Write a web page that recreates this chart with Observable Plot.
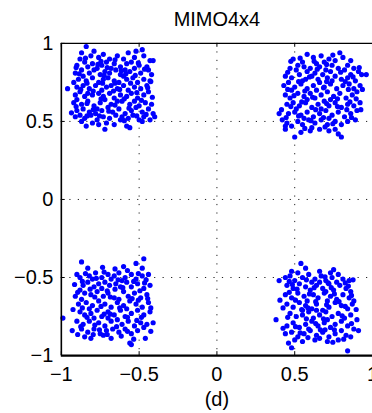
<!DOCTYPE html>
<html>
<head>
<meta charset="utf-8">
<script src="https://cdn.jsdelivr.net/npm/d3@7"></script>
<script src="https://cdn.jsdelivr.net/npm/@observablehq/plot@0.6"></script>
<style>
  html, body { margin: 0; padding: 0; background: #fff; overflow: hidden; }
</style>
</head>
<body>
<div id="chart"></div>
<script>
const title = "MIMO4x4";
const caption = "(d)";
const tickValues = [-1, -0.5, 0, 0.5, 1];
const tickLabels = ["\u22121", "\u22120.5", "0", "0.5", "1"];
const gridValues = [-0.5, 0, 0.5];

const clusterTopLeft = [
[-0.84,0.98],[-0.87,0.94],[-0.79,0.95],[-0.73,0.93],[-0.64,0.92],[-0.57,0.94],[-0.52,0.95],[-0.48,0.96],[-0.43,0.89],[-0.41,0.89],[-0.76,0.91],[-0.69,0.90],[-0.60,0.90],[-0.88,0.90],[-0.53,0.91],[-0.81,0.92],[-0.47,0.92],
[-0.90,0.86],[-0.85,0.88],[-0.80,0.87],[-0.74,0.86],[-0.71,0.88],[-0.66,0.87],[-0.62,0.85],[-0.58,0.87],[-0.55,0.88],[-0.50,0.86],[-0.45,0.85],[-0.77,0.84],[-0.68,0.84],[-0.83,0.85],[-0.59,0.83],
[-0.91,0.81],[-0.87,0.83],[-0.82,0.81],[-0.79,0.83],[-0.75,0.80],[-0.72,0.82],[-0.69,0.81],[-0.65,0.83],[-0.62,0.80],[-0.56,0.82],[-0.53,0.84],[-0.49,0.81],[-0.44,0.83],[-0.42,0.80],[-0.86,0.79],[-0.60,0.79],
[-0.89,0.77],[-0.84,0.76],[-0.80,0.78],[-0.76,0.75],[-0.73,0.77],[-0.70,0.78],[-0.66,0.76],[-0.63,0.75],[-0.58,0.77],[-0.54,0.78],[-0.51,0.75],[-0.47,0.77],[-0.43,0.76],[-0.92,0.75],[-0.68,0.73],
[-0.96,0.71],[-0.90,0.72],[-0.86,0.73],[-0.82,0.71],[-0.78,0.73],[-0.74,0.70],[-0.71,0.72],[-0.64,0.71],[-0.60,0.73],[-0.57,0.70],[-0.53,0.72],[-0.49,0.71],[-0.45,0.73],[-0.83,0.68],[-0.76,0.68],
[-0.91,0.67],[-0.88,0.69],[-0.85,0.66],[-0.80,0.67],[-0.73,0.66],[-0.69,0.68],[-0.66,0.65],[-0.62,0.67],[-0.58,0.66],[-0.55,0.68],[-0.51,0.65],[-0.47,0.67],[-0.44,0.69],[-0.90,0.64],[-0.61,0.63],
[-0.92,0.62],[-0.87,0.61],[-0.83,0.63],[-0.79,0.60],[-0.75,0.62],[-0.72,0.64],[-0.68,0.61],[-0.64,0.63],[-0.56,0.61],[-0.53,0.63],[-0.50,0.60],[-0.46,0.62],[-0.42,0.61],[-0.77,0.58],
[-0.90,0.57],[-0.86,0.58],[-0.82,0.56],[-0.78,0.55],[-0.74,0.57],[-0.70,0.59],[-0.67,0.56],[-0.63,0.58],[-0.59,0.55],[-0.55,0.57],[-0.52,0.59],[-0.48,0.56],[-0.44,0.58],[-0.41,0.55],[-0.88,0.54],[-0.61,0.53],
[-0.91,0.53],[-0.85,0.52],[-0.81,0.54],[-0.77,0.51],[-0.73,0.53],[-0.69,0.52],[-0.65,0.54],[-0.62,0.51],[-0.57,0.52],[-0.54,0.54],[-0.50,0.51],[-0.47,0.53],[-0.40,0.53],[-0.43,0.51],[-0.87,0.50],[-0.71,0.49],
[-0.84,0.47],[-0.72,0.45],[-0.58,0.47],[-0.48,0.50],[-0.76,0.48],[-0.66,0.48],[-0.56,0.46],[-0.80,0.49],
[-0.845,0.905],[-0.745,0.885],[-0.655,0.895],[-0.505,0.875],[-0.885,0.805],[-0.705,0.845],[-0.615,0.825],[-0.465,0.835],[-0.835,0.745],[-0.725,0.795],[-0.655,0.745],[-0.525,0.795],[-0.445,0.715],[-0.875,0.705],[-0.795,0.695],[-0.665,0.695],[-0.555,0.745],[-0.515,0.685],[-0.835,0.615],[-0.745,0.645],[-0.655,0.605],[-0.595,0.645],[-0.485,0.635],[-0.905,0.595],[-0.795,0.575],[-0.695,0.565],[-0.565,0.585],[-0.455,0.545],[-0.835,0.535],[-0.755,0.535],[-0.595,0.505],[-0.515,0.535],[-0.935,0.555],[-0.625,0.705],[-0.735,0.745],[-0.585,0.805],[-0.765,0.865],[-0.905,0.845],[-0.415,0.655],[-0.425,0.755]
];

const clusterTopRight = [
[0.49,0.90],[0.58,0.93],[0.62,0.91],[0.67,0.92],[0.72,0.90],[0.79,0.94],[0.81,0.91],[0.86,0.89],[0.55,0.88],[0.69,0.88],[0.76,0.89],[0.84,0.86],[0.52,0.86],[0.64,0.87],
[0.47,0.84],[0.51,0.83],[0.56,0.85],[0.60,0.84],[0.66,0.85],[0.70,0.83],[0.74,0.86],[0.78,0.84],[0.82,0.83],[0.88,0.84],[0.91,0.82],[0.58,0.82],[0.63,0.81],[0.73,0.82],[0.86,0.80],
[0.44,0.79],[0.48,0.78],[0.53,0.80],[0.57,0.77],[0.61,0.79],[0.65,0.77],[0.68,0.80],[0.71,0.78],[0.76,0.79],[0.80,0.77],[0.84,0.78],[0.89,0.76],[0.93,0.80],[0.96,0.80],[0.55,0.76],[0.74,0.76],
[0.43,0.73],[0.46,0.75],[0.50,0.72],[0.54,0.74],[0.58,0.71],[0.62,0.73],[0.66,0.75],[0.69,0.72],[0.73,0.74],[0.77,0.71],[0.81,0.73],[0.85,0.74],[0.88,0.71],[0.92,0.73],[0.48,0.70],[0.64,0.70],
[0.44,0.67],[0.47,0.65],[0.52,0.68],[0.56,0.66],[0.60,0.68],[0.63,0.65],[0.67,0.67],[0.71,0.69],[0.75,0.66],[0.79,0.68],[0.83,0.65],[0.87,0.67],[0.90,0.69],[0.58,0.64],[0.73,0.64],
[0.45,0.61],[0.49,0.62],[0.53,0.60],[0.57,0.62],[0.61,0.59],[0.65,0.61],[0.69,0.63],[0.72,0.60],[0.76,0.62],[0.80,0.59],[0.84,0.61],[0.88,0.60],[0.92,0.62],[0.51,0.58],[0.67,0.58],
[0.46,0.55],[0.50,0.56],[0.54,0.54],[0.58,0.56],[0.62,0.53],[0.66,0.55],[0.70,0.57],[0.74,0.54],[0.78,0.56],[0.82,0.53],[0.86,0.55],[0.90,0.57],[0.40,0.55],[0.56,0.52],[0.72,0.52],
[0.42,0.51],[0.45,0.49],[0.48,0.47],[0.52,0.50],[0.55,0.48],[0.59,0.51],[0.63,0.49],[0.67,0.51],[0.71,0.48],[0.76,0.50],[0.80,0.48],[0.84,0.50],[0.89,0.51],[0.44,0.47],[0.61,0.46],
[0.44,0.45],[0.50,0.40],[0.54,0.43],[0.60,0.44],[0.72,0.44],[0.78,0.42],[0.80,0.40],[0.76,0.45],[0.66,0.45],
[0.535,0.905],[0.745,0.925],[0.645,0.835],[0.455,0.815],[0.595,0.785],[0.795,0.815],[0.875,0.785],[0.525,0.755],[0.705,0.755],[0.825,0.755],[0.565,0.695],[0.685,0.715],[0.845,0.705],[0.455,0.705],[0.495,0.665],[0.615,0.655],[0.775,0.645],[0.895,0.645],[0.545,0.625],[0.705,0.615],[0.855,0.625],[0.475,0.595],[0.635,0.575],[0.775,0.595],[0.925,0.575],[0.525,0.535],[0.685,0.525],[0.835,0.575],[0.445,0.525],[0.605,0.505],[0.745,0.485],[0.865,0.525],[0.565,0.455],[0.695,0.465],[0.415,0.575],[0.935,0.705],[0.625,0.885],[0.705,0.865],[0.915,0.845],[0.475,0.885]
];

const clusterBottomLeft = [
[-0.47,-0.38],[-0.87,-0.40],[-0.52,-0.41],[-0.60,-0.43],[-0.83,-0.44],[-0.48,-0.44],
[-0.90,-0.48],[-0.88,-0.50],[-0.82,-0.49],[-0.78,-0.47],[-0.74,-0.50],[-0.70,-0.48],[-0.66,-0.49],[-0.63,-0.47],[-0.59,-0.50],[-0.55,-0.48],[-0.52,-0.51],[-0.48,-0.49],[-0.44,-0.48],[-0.80,-0.51],[-0.68,-0.51],[-0.61,-0.52],
[-0.86,-0.55],[-0.83,-0.53],[-0.79,-0.56],[-0.76,-0.54],[-0.72,-0.53],[-0.69,-0.55],[-0.65,-0.54],[-0.62,-0.56],[-0.58,-0.53],[-0.55,-0.56],[-0.51,-0.54],[-0.47,-0.57],[-0.43,-0.55],[-0.74,-0.57],[-0.88,-0.58],
[-0.91,-0.62],[-0.85,-0.60],[-0.81,-0.61],[-0.77,-0.59],[-0.73,-0.62],[-0.70,-0.60],[-0.66,-0.63],[-0.60,-0.59],[-0.57,-0.62],[-0.53,-0.60],[-0.49,-0.63],[-0.45,-0.61],[-0.63,-0.64],[-0.87,-0.64],
[-0.89,-0.67],[-0.84,-0.66],[-0.80,-0.68],[-0.76,-0.65],[-0.72,-0.67],[-0.68,-0.69],[-0.64,-0.66],[-0.60,-0.68],[-0.56,-0.65],[-0.52,-0.67],[-0.48,-0.69],[-0.44,-0.66],[-0.82,-0.70],[-0.58,-0.70],
[-0.88,-0.72],[-0.85,-0.74],[-0.81,-0.73],[-0.77,-0.71],[-0.74,-0.75],[-0.70,-0.72],[-0.66,-0.74],[-0.62,-0.71],[-0.59,-0.75],[-0.55,-0.73],[-0.51,-0.71],[-0.47,-0.74],[-0.43,-0.72],[-0.79,-0.76],[-0.64,-0.77],
[-0.99,-0.76],[-0.90,-0.78],[-0.86,-0.80],[-0.82,-0.78],[-0.76,-0.79],[-0.72,-0.81],[-0.68,-0.78],[-0.61,-0.80],[-0.57,-0.78],[-0.53,-0.81],[-0.49,-0.79],[-0.45,-0.80],[-0.41,-0.79],[-0.70,-0.76],
[-0.93,-0.84],[-0.87,-0.83],[-0.83,-0.85],[-0.79,-0.83],[-0.75,-0.86],[-0.71,-0.84],[-0.67,-0.83],[-0.63,-0.85],[-0.59,-0.83],[-0.55,-0.86],[-0.51,-0.84],[-0.47,-0.82],[-0.73,-0.87],[-0.85,-0.88],
[-0.56,-0.92],[-0.55,-0.93],[-0.46,-0.89],[-0.68,-0.89],[-0.81,-0.89],
[-0.845,-0.475],[-0.725,-0.465],[-0.575,-0.455],[-0.505,-0.475],[-0.865,-0.525],[-0.775,-0.505],[-0.635,-0.515],[-0.535,-0.525],[-0.455,-0.515],[-0.815,-0.575],[-0.705,-0.585],[-0.605,-0.565],[-0.495,-0.585],[-0.895,-0.595],[-0.785,-0.625],[-0.685,-0.625],[-0.545,-0.635],[-0.445,-0.635],[-0.865,-0.695],[-0.745,-0.685],[-0.625,-0.695],[-0.505,-0.645],[-0.425,-0.695],[-0.835,-0.755],[-0.725,-0.735],[-0.575,-0.755],[-0.485,-0.755],[-0.875,-0.815],[-0.785,-0.805],[-0.645,-0.815],[-0.515,-0.775],[-0.425,-0.845],[-0.795,-0.865],[-0.615,-0.875],[-0.535,-0.895],[-0.705,-0.865],[-0.925,-0.705],[-0.915,-0.545],[-0.655,-0.575],[-0.575,-0.845],[-0.685,-0.735],[-0.755,-0.835],[-0.895,-0.865],[-0.465,-0.535],[-0.655,-0.445],[-0.735,-0.435]
];

const clusterBottomRight = [
[0.54,-0.41],[0.57,-0.44],[0.48,-0.46],[0.66,-0.46],[0.73,-0.47],[0.75,-0.45],[0.52,-0.47],
[0.44,-0.50],[0.40,-0.52],[0.47,-0.49],[0.50,-0.52],[0.55,-0.50],[0.59,-0.48],[0.63,-0.51],[0.67,-0.49],[0.70,-0.52],[0.74,-0.50],[0.78,-0.48],[0.81,-0.51],[0.85,-0.52],[0.61,-0.53],[0.77,-0.53],
[0.45,-0.55],[0.49,-0.57],[0.53,-0.54],[0.57,-0.56],[0.60,-0.58],[0.64,-0.55],[0.68,-0.57],[0.72,-0.54],[0.75,-0.58],[0.79,-0.55],[0.83,-0.57],[0.86,-0.59],[0.66,-0.53],[0.70,-0.59],
[0.44,-0.61],[0.48,-0.63],[0.52,-0.60],[0.56,-0.62],[0.62,-0.61],[0.65,-0.63],[0.69,-0.60],[0.73,-0.62],[0.77,-0.64],[0.81,-0.61],[0.85,-0.63],[0.88,-0.65],[0.58,-0.65],[0.71,-0.65],
[0.45,-0.67],[0.49,-0.69],[0.53,-0.66],[0.57,-0.68],[0.61,-0.70],[0.64,-0.67],[0.72,-0.69],[0.76,-0.66],[0.80,-0.68],[0.84,-0.70],[0.87,-0.67],[0.55,-0.71],[0.68,-0.71],
[0.38,-0.77],[0.47,-0.73],[0.51,-0.75],[0.55,-0.74],[0.59,-0.72],[0.62,-0.76],[0.66,-0.74],[0.70,-0.72],[0.74,-0.75],[0.78,-0.73],[0.82,-0.76],[0.86,-0.74],[0.90,-0.77],[0.64,-0.71],
[0.45,-0.81],[0.49,-0.79],[0.53,-0.82],[0.57,-0.80],[0.61,-0.78],[0.65,-0.81],[0.69,-0.79],[0.73,-0.82],[0.76,-0.80],[0.80,-0.78],[0.84,-0.81],[0.88,-0.83],[0.59,-0.83],[0.71,-0.77],
[0.44,-0.86],[0.48,-0.85],[0.52,-0.88],[0.56,-0.86],[0.60,-0.84],[0.64,-0.87],[0.68,-0.85],[0.72,-0.88],[0.76,-0.86],[0.80,-0.84],[0.83,-0.87],[0.91,-0.84],[0.66,-0.89],[0.86,-0.88],
[0.46,-0.92],[0.48,-0.95],[0.55,-0.91],[0.63,-0.90],[0.71,-0.91],[0.78,-0.90],[0.84,-0.97],[0.50,-0.90],
[0.465,-0.525],[0.575,-0.515],[0.695,-0.495],[0.825,-0.535],[0.515,-0.575],[0.625,-0.565],[0.735,-0.565],[0.845,-0.555],[0.465,-0.595],[0.595,-0.605],[0.755,-0.605],[0.865,-0.615],[0.505,-0.645],[0.635,-0.655],[0.785,-0.655],[0.425,-0.695],[0.585,-0.695],[0.705,-0.675],[0.825,-0.685],[0.455,-0.755],[0.575,-0.765],[0.685,-0.765],[0.805,-0.745],[0.505,-0.815],[0.635,-0.795],[0.755,-0.835],[0.865,-0.795],[0.535,-0.855],[0.695,-0.835],[0.815,-0.895],[0.585,-0.885],[0.745,-0.915],[0.425,-0.825],[0.895,-0.705],[0.485,-0.545],[0.715,-0.535],[0.545,-0.705],[0.665,-0.835],[0.875,-0.515],[0.405,-0.645]
];

const points = [...clusterTopLeft, ...clusterTopRight, ...clusterBottomLeft, ...clusterBottomRight];

const font = "'Liberation Sans', Arial, Helvetica, sans-serif";
const fmt = d => tickLabels[tickValues.indexOf(d)];

const chart = Plot.plot({
  width: 373,
  height: 413,
  marginLeft: 61,
  marginRight: 0,
  marginTop: 43,
  marginBottom: 57,
  style: { fontFamily: font, fontSize: "20px", color: "#000", background: "#fff", overflow: "visible" },
  x: { domain: [-1, 1] },
  y: { domain: [-1, 1] },
  marks: [
    Plot.ruleX(gridValues, { stroke: "#222", strokeWidth: 1, strokeDasharray: "1.2,7.3" }),
    Plot.ruleY(gridValues, { stroke: "#222", strokeWidth: 1, strokeDasharray: "1.2,7.3" }),
    Plot.dot(points, { x: d => d[0], y: d => d[1], r: 2.6, fill: "#0000ff", stroke: null }),
    Plot.ruleY([1], { stroke: "#000", strokeWidth: 1.2 }),
    Plot.ruleX(tickValues, { y1: -1, y2: -0.975, stroke: "#000", strokeWidth: 1 }),
    Plot.ruleX(tickValues, { y1: 1, y2: 0.975, stroke: "#000", strokeWidth: 1 }),
    Plot.ruleY(tickValues, { x1: -1, x2: -0.975, stroke: "#000", strokeWidth: 1 }),
    Plot.ruleX([-1], { stroke: "#000", strokeWidth: 1.6 }),
    Plot.ruleY([-1], { stroke: "#000", strokeWidth: 2.2 }),
    Plot.axisX(tickValues, { tickSize: 0, tickPadding: 11, fontSize: 20, label: null, tickFormat: fmt }),
    Plot.axisY(tickValues, { tickSize: 0, tickPadding: 8, fontSize: 20, label: null, tickFormat: fmt }),
    Plot.text([title], { text: d => d, frameAnchor: "top", dy: -24, fontSize: 20, lineAnchor: "middle", fill: "#000" }),
    Plot.text([caption], { text: d => d, frameAnchor: "bottom", dy: 44, fontSize: 20, lineAnchor: "middle", fill: "#000" })
  ]
});

document.getElementById("chart").appendChild(chart);
</script>
</body>
</html>
